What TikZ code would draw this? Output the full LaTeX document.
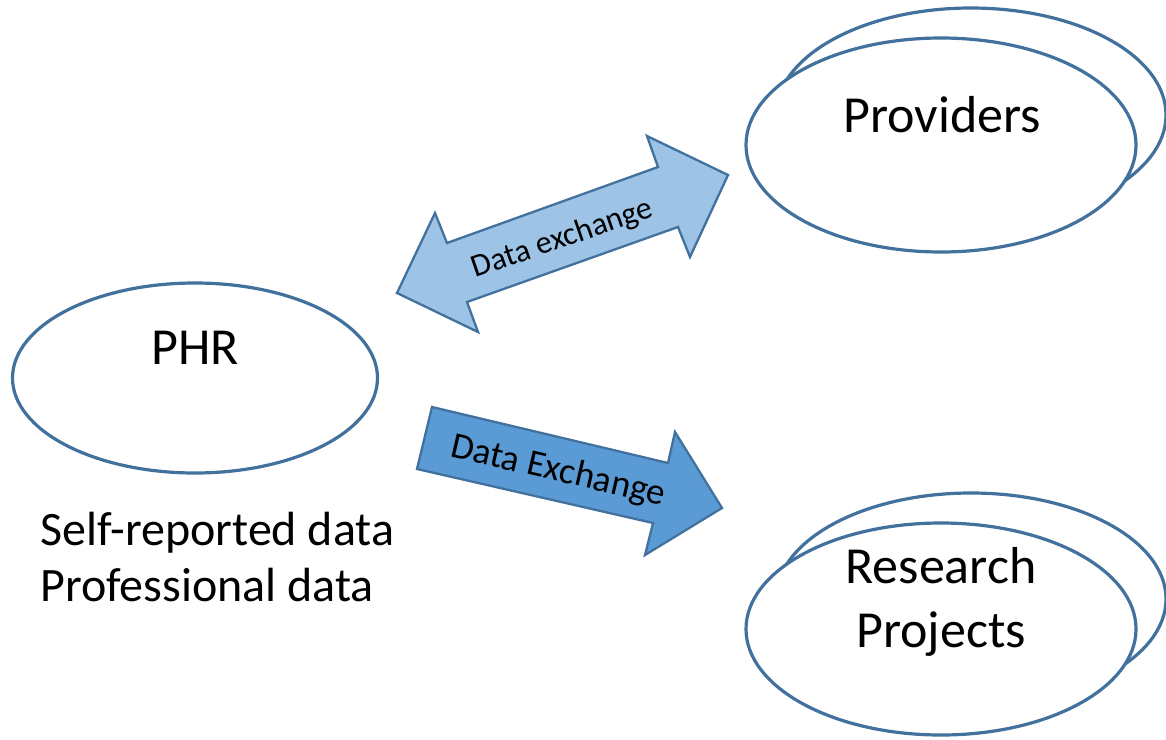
\documentclass[tikz,border=0pt]{standalone}
\usepackage{fontspec}
\setmainfont{Carlito}
\usetikzlibrary{shapes.geometric}
\definecolor{edge}{RGB}{65,113,156}
\definecolor{lightfill}{RGB}{157,195,230}
\definecolor{darkfill}{RGB}{91,155,213}
\tikzset{
  oval/.style={ellipse, draw=edge, line width=3.2pt, fill=white, inner sep=0pt},
  bigtext/.style={font=\fontsize{52}{60}\selectfont, anchor=base, inner sep=0pt},
  blockarrow/.style={draw=edge, line width=2.3pt, line join=miter},
  arrowlabel/.style={anchor=base, inner sep=0pt}
}
\begin{document}
\begin{tikzpicture}[x=1pt,y=-1pt]
\useasboundingbox (0,0) rectangle (1166,739);
% Providers
\node[oval, minimum width=390pt, minimum height=214pt] (provback) at (971,115) {};
\node[oval, minimum width=390pt, minimum height=214pt] (prov) at (941,145) {};
\node[bigtext] (provtext) at (942,132) {Providers};
% Research projects
\node[oval, minimum width=390pt, minimum height=212pt] (resback) at (971,599) {};
\node[oval, minimum width=390pt, minimum height=212pt] (res) at (941,629) {};
\node[bigtext] (restext1) at (941,583) {Research};
\node[bigtext] (restext2) at (941,647) {Projects};
% PHR
\node[oval, minimum width=365pt, minimum height=190pt] (phr) at (195,378) {};
\node[bigtext] (phrtext) at (195,364) {PHR};
\node[font=\fontsize{48}{57}\selectfont, anchor=base west, inner sep=0pt] (self) at (40,545) {Self-reported data};
\node[font=\fontsize{48}{57}\selectfont, anchor=base west, inner sep=0pt] (prof) at (40,601) {Professional data};
% double arrow
\draw[blockarrow, fill=lightfill] (397,293) -- (435,213) -- (447,243) -- (658,167) -- (647,136) -- (728,175) -- (690,257) -- (678,227) -- (467,302) -- (478,332) -- cycle;
\node[arrowlabel, rotate=19, font=\fontsize{32}{37}\selectfont] (lab1) at (565,247) {Data exchange};
% single arrow
\draw[blockarrow, fill=darkfill] (432,407) -- (668,463) -- (675,432) -- (722,508) -- (645,555) -- (653,523) -- (417,469) -- cycle;
\node[arrowlabel, rotate=-13, font=\fontsize{37}{43}\selectfont] (lab2) at (556,481) {Data Exchange};
\end{tikzpicture}
\end{document}
